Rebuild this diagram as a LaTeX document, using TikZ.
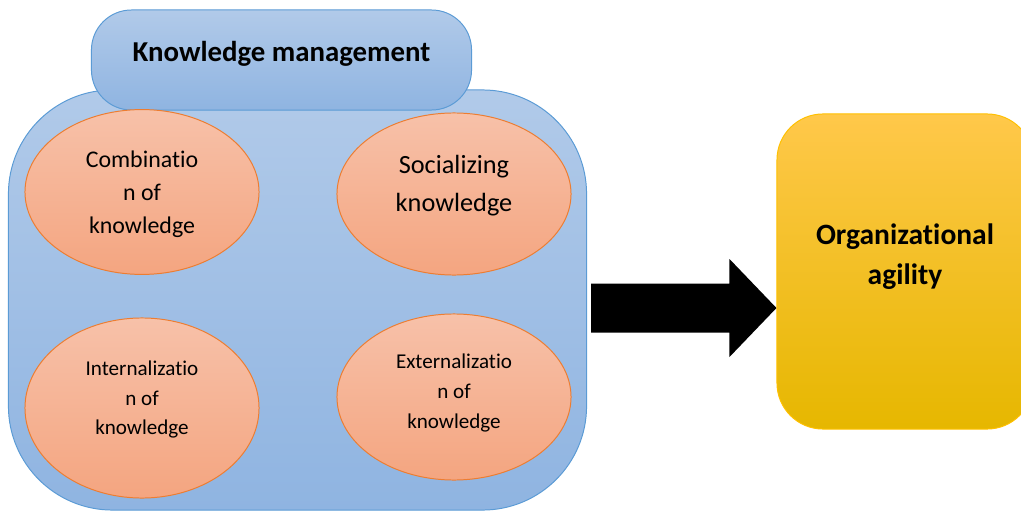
\documentclass[tikz,border=0pt]{standalone}
\usepackage{fontspec}
\setmainfont{Carlito}[Ligatures=NoCommon]
\usetikzlibrary{shapes.geometric,calc}
\definecolor{kmline}{HTML}{5B9BD5}
\definecolor{kmtop}{HTML}{B1CAE9}
\definecolor{kmbot}{HTML}{8FB4E1}
\definecolor{dimline}{HTML}{ED7D31}
\definecolor{dimtop}{HTML}{F7C1A9}
\definecolor{dimbot}{HTML}{F4A580}
\definecolor{agtop}{HTML}{FFC84A}
\definecolor{agmid}{HTML}{FFC000}
\definecolor{agbot}{HTML}{E6B700}

\begin{document}
\begin{tikzpicture}[x=0.025cm,y=-0.025cm,
    kmbox/.style={draw=kmline,line width=0.7pt,top color=kmtop,bottom color=kmbot},
    dim/.style={ellipse,draw=dimline,line width=0.7pt,top color=dimtop,bottom color=dimbot,
        minimum width=5.85cm,inner sep=0pt},
    dimtxt/.style={align=center,inner sep=0pt}]
    \useasboundingbox (0,0) rectangle (1021,513);
    \node[kmbox,rounded corners=2.6cm,minimum width=14.45cm,minimum height=10.5cm] (km) at (297.5,300) {};
    \node[kmbox,rounded corners=1cm,minimum width=9.5cm,minimum height=2.5cm,
        font=\bfseries\fontsize{20.5}{24}\selectfont] (kmtitle) at (281.5,60) {\raisebox{0.42cm}{Knowledge management}};
    \node[dim,minimum height=4.12cm] (comb) at (142,192) {};
    \node[dim,minimum height=4.05cm] (soc) at (454,194) {};
    \node[dim,minimum height=4.5cm] (intern) at (142,408) {};
    \node[dim,minimum height=4.15cm] (extern) at (454,397) {};
    \node[dimtxt,font=\fontsize{17}{23.5}\selectfont,yshift=-0.05cm] (combtxt) at (comb.center) {Combinatio\\n of\\knowledge};
    \node[dimtxt,font=\fontsize{18.7}{27}\selectfont,yshift=0.21cm] (soctxt) at (soc.center) {Socializing\\knowledge};
    \node[dimtxt,font=\fontsize{15}{21}\selectfont,yshift=0.21cm] (interntxt) at (intern.center) {Internalizatio\\n of\\knowledge};
    \node[dimtxt,font=\fontsize{15}{21.3}\selectfont,yshift=0.11cm] (externtxt) at (extern.center) {Externalizatio\\n of\\knowledge};
    \node[draw=agmid,line width=0.7pt,rounded corners=1.15cm,top color=agtop,middle color=agmid,bottom color=agbot,
        minimum width=6.4cm,minimum height=7.875cm] (agile) at (905,271.5) {};
    \node[align=center,inner sep=0pt,font=\bfseries\fontsize{21}{28.5}\selectfont,yshift=0.375cm] (agiletxt) at (agile.center) {Organizational\\agility};
    \coordinate (tail) at ($(km.east)+(4,8)$);
    \coordinate (tip) at (tail -| agile.west);
    \fill ($(tail)+(0,-24.5)$) -- ($(tip)+(-47,-24.5)$) -- ($(tip)+(-47,-49)$) -- (tip)
        -- ($(tip)+(-47,49)$) -- ($(tip)+(-47,24.5)$) -- ($(tail)+(0,24.5)$) -- cycle;
\end{tikzpicture}
\end{document}
